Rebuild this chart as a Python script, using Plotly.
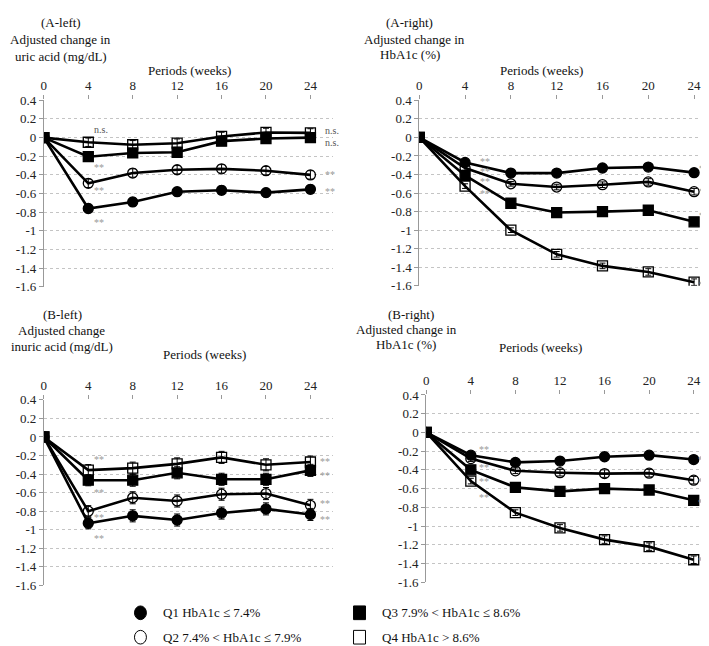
import plotly.graph_objects as go

weeks = [0, 4, 8, 12, 16, 20, 24]
groups = ["Q1 HbA1c ≤ 7.4%", "Q2 7.4% < HbA1c ≤ 7.9%", "Q3 7.9% < HbA1c ≤ 8.6%", "Q4 HbA1c > 8.6%"]

# A-left: uric acid
al_q1 = [0, -0.76, -0.69, -0.58, -0.565, -0.59, -0.555]
al_q2 = [0, -0.49, -0.38, -0.345, -0.335, -0.355, -0.40]
al_q3 = [0, -0.205, -0.165, -0.157, -0.038, -0.01, 0]
al_q4 = [0, -0.05, -0.077, -0.06, 0.012, 0.055, 0.05]
al_err = [0, 0.045, 0.045, 0.045, 0.045, 0.045, 0.045]

# A-right: HbA1c
ar_q1 = [0, -0.27, -0.385, -0.385, -0.33, -0.32, -0.38]
ar_q2 = [0, -0.33, -0.50, -0.535, -0.51, -0.48, -0.585]
ar_q3 = [0, -0.41, -0.71, -0.81, -0.80, -0.785, -0.91]
ar_q4 = [0, -0.525, -1.0, -1.26, -1.385, -1.45, -1.56]
ar_err = [0, 0.025, 0.025, 0.03, 0.03, 0.035, 0.035]

# B-left: uric acid
bl_q1 = [0, -0.93, -0.85, -0.895, -0.82, -0.775, -0.835]
bl_q2 = [0, -0.80, -0.655, -0.69, -0.617, -0.61, -0.737]
bl_q3 = [0, -0.466, -0.466, -0.386, -0.456, -0.456, -0.36]
bl_q4 = [0, -0.357, -0.336, -0.29, -0.22, -0.30, -0.27]
bl_err = [0, 0.06, 0.065, 0.065, 0.065, 0.065, 0.065]

# B-right: HbA1c
br_q1 = [0, -0.243, -0.32, -0.306, -0.26, -0.243, -0.29]
br_q2 = [0, -0.28, -0.41, -0.43, -0.44, -0.435, -0.51]
br_q3 = [0, -0.40, -0.587, -0.63, -0.60, -0.615, -0.725]
br_q4 = [0, -0.52, -0.857, -1.02, -1.145, -1.22, -1.36]
br_err = [0, 0.03, 0.03, 0.035, 0.04, 0.04, 0.04]

# significance labels (x, y, text)
al_marks = [(4.45, 0.09, "n.s."), (4.45, -0.32, "**"), (4.45, -0.565, "**"), (4.45, -0.91, "**"),
            (25.2, 0.08, "n.s."), (25.2, -0.05, "n.s."), (25.2, -0.40, "**"), (25.2, -0.58, "**")]
ar_marks = [(5.2, -0.26, "**"), (5.2, -0.37, "**"), (5.2, -0.48, "**"), (5.2, -0.61, "**"),
            (24.3, -0.33, "**"), (24.3, -0.58, "**"), (24.3, -0.84, "**"), (24.3, -1.58, "**")]
bl_marks = [(4.45, -0.245, "**"), (4.45, -0.60, "**"), (4.45, -0.87, "**"), (4.45, -1.09, "**"),
            (24.8, -0.26, "**"), (24.8, -0.41, "**"), (24.8, -0.72, "**"), (24.8, -0.89, "**")]
br_marks = [(4.6, -0.18, "**"), (4.6, -0.38, "**"), (4.6, -0.52, "**"), (4.6, -0.70, "**"),
            (24.3, -0.285, "**"), (24.3, -0.52, "**"), (24.3, -0.75, "**"), (24.3, -1.37, "**")]

yticks = [0.4, 0.2, 0, -0.2, -0.4, -0.6, -0.8, -1, -1.2, -1.4, -1.6]
ytext = ["0.4", "0.2", "0", "-0.2", "-0.4", "-0.6", "-0.8", "-1", "-1.2", "-1.4", "-1.6"]

W, H = 709, 646
FONT = "Liberation Serif"
symbols = ["circle", "circle-open", "square", "square-open"]

panels = [
    ("x", "y", [al_q1, al_q2, al_q3, al_q4], al_err, al_marks, (33, 323), (87.3, 278.3)),
    ("x2", "y2", [ar_q1, ar_q2, ar_q3, ar_q4], ar_err, ar_marks, (410, 709), (87.3, 277.3)),
    ("x3", "y3", [bl_q1, bl_q2, bl_q3, bl_q4], bl_err, bl_marks, (33, 323), (394, 584)),
    ("x4", "y4", [br_q1, br_q2, br_q3, br_q4], br_err, br_marks, (417, 708), (389, 580.7)),
]

fig = go.Figure()
annotations = []
for i, (xa, ya, series, err, marks, (x0, x1), (ytop, ybot)) in enumerate(panels):
    # draw Q4 first so the filled markers sit on top
    for k in [3, 2, 1, 0]:
        fig.add_trace(go.Scatter(
            x=weeks, y=series[k], xaxis=xa, yaxis=ya, mode="lines+markers",
            name=groups[k], showlegend=False,
            line=dict(color="black", width=2.6),
            marker=dict(symbol=symbols[k], size=10,
                        color="black", line=dict(color="black", width=1.3)),
            error_y=dict(type="data", array=err, color="black", thickness=1, width=3),
        ))
    n = "" if i == 0 else str(i + 1)
    fig.layout["xaxis" + n] = dict(
        domain=[x0 / W, x1 / W], range=[0, 26], side="top", anchor=ya,
        tickvals=weeks, showgrid=False, zeroline=False, showline=False,
        ticks="outside", ticklen=4, tickcolor="#999",
        tickfont=dict(family=FONT, size=13, color="#222"))
    fig.layout["yaxis" + n] = dict(
        domain=[1 - ybot / H, 1 - ytop / H], range=[-1.6, 0.4], anchor=xa,
        tickvals=yticks, ticktext=ytext, showgrid=True, gridcolor="#c4c4c4",
        griddash="dot", gridwidth=1, zeroline=False, showline=True,
        linecolor="#999", linewidth=1, ticks="outside", ticklen=4, tickcolor="#999",
        tickfont=dict(family=FONT, size=13, color="#222"))
    for (mx, my, txt) in marks:
        annotations.append(dict(
            x=mx, y=my, xref=xa, yref=ya, text=txt, showarrow=False, xanchor="left",
            borderpad=0,
            font=dict(family=FONT, size=10, color="#555" if txt == "n.s." else "#999")))

# panel titles
titles = [
    (50, 8, "(A-left)"), (50, 25, "Adjusted change in"), (50, 42, "uric acid (mg/dL)"),
    (179, 57, "Periods (weeks)"),
    (400, 8, "(A-right)"), (405, 25, "Adjusted change in"), (401, 40, "HbA1c (%)"),
    (533, 57, "Periods (weeks)"),
    (52, 307, "(B-left)"), (51, 323, "Adjusted change"), (51, 339, "inuric acid (mg/dL)"),
    (194, 348, "Periods (weeks)"),
    (402, 307, "(B-right)"), (397, 322, "Adjusted change in"), (397, 337, "HbA1c (%)"),
    (532, 340, "Periods (weeks)"),
]
for (tx, ty, txt) in titles:
    annotations.append(dict(x=tx / W, y=1 - ty / H, xref="paper", yref="paper", text=txt,
                            showarrow=False, xanchor="center", yanchor="middle",
                            font=dict(family=FONT, size=13, color="#111")))

# legend drawn as shapes + text
legend_pos = [(130, 612), (130, 637), (350, 612), (350, 637)]
shapes = []
for k, (lx, ly) in enumerate(legend_pos):
    fill = "black" if k in (0, 2) else "white"
    kind = "circle" if k < 2 else "rect"
    shapes.append(dict(type=kind, xref="paper", yref="paper",
                       x0=(lx - 6) / W, x1=(lx + 6) / W, y0=1 - (ly + 7) / H, y1=1 - (ly - 7) / H,
                       fillcolor=fill, line=dict(color="black", width=1)))
    annotations.append(dict(x=(lx + 21) / W, y=1 - ly / H, xref="paper", yref="paper",
                            text=groups[k], showarrow=False, xanchor="left", yanchor="middle",
                            font=dict(family=FONT, size=13, color="#111")))

fig.update_layout(width=W, height=H, margin=dict(l=0, r=0, t=0, b=0),
                  plot_bgcolor="white", paper_bgcolor="white",
                  annotations=annotations, shapes=shapes, showlegend=False)

fig.write_html("out.html")
